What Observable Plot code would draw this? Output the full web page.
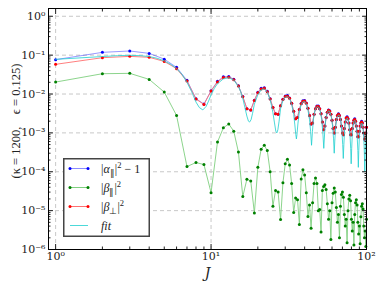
<!DOCTYPE html>
<html><head><meta charset="utf-8">
<script src="https://cdn.jsdelivr.net/npm/d3@7"></script>
<script src="https://cdn.jsdelivr.net/npm/@observablehq/plot@0.6"></script>
<style>
body{margin:0;background:#fff;}
#wrap{position:relative;width:381px;height:286px;}
#legend{position:absolute;left:63px;top:158px;}
</style>
</head><body>
<div id="wrap"><div id="chart"></div><svg id="legend" width="87" height="80"></svg></div>
<script>
// ---- data ----
const J = d3.range(1, 101);
const alphaPar = [0.0766,0.118,0.128,0.111,0.079,0.0485,0.0225,0.0076,0.0055,0.0122,
0.0212,0.0278,0.0283,0.0240,0.0163,0.0086,0.0042,0.0039,0.0069,0.0111,
0.0140,0.0146,0.0118,0.0075,0.0045,0.0031,0.0030,0.0050,0.0073,0.0089,
0.0091,0.0079,0.0058,0.0036,0.0023,0.0025,0.0040,0.0057,0.0067,0.0068,
0.0059,0.0043,0.0028,0.0017,0.0018,0.0030,0.0042,0.0049,0.0049,0.0042,
0.0031,0.0019,0.0012,0.0015,0.0025,0.0034,0.0039,0.0037,0.0030,0.0021,
0.0013,0.0010,0.0014,0.0022,0.0028,0.0031,0.0028,0.0022,0.0015,0.0010,
0.0009,0.0013,0.0019,0.0024,0.0026,0.0023,0.0018,0.0012,0.0009,0.0009,
0.0013,0.0018,0.0021,0.0023,0.0020,0.0015,0.0011,0.0008,0.0008,0.0011,
0.0015,0.0018,0.0020,0.0018,0.0014,0.0010,0.0007,0.0007,0.0010,0.0014];
const betaPar = [0.0203,0.0333,0.034,0.0238,0.0112,0.0028,1.36e-4,1.73e-4,1.53e-4,2.9e-5,
5.8e-4,1.35e-3,1.7e-3,1.1e-3,3.2e-4,2.3e-5,6.4e-5,5.8e-5,8.7e-6,1.3e-4,
3.8e-4,4.8e-4,3.5e-4,1.0e-4,1.3e-5,3.3e-5,3.0e-5,5.9e-6,5.2e-5,1.6e-4,
2.1e-4,1.5e-4,5.0e-5,9e-6,2.1e-5,1.9e-5,4.4e-6,6.5e-5,1.12e-4,8.2e-5,
2.9e-5,7.1e-6,1.4e-5,3.5e-6,1.6e-5,5.0e-5,6.9e-5,5.0e-5,1.0e-5,1.07e-5,
2.8e-6,3.3e-5,4.2e-5,4.6e-5,3.5e-5,1.5e-5,6e-6,1.0e-5,1.8e-6,1.6e-5,
2.8e-5,3.8e-5,3.0e-5,1.2e-5,5e-6,8e-6,2.0e-6,1.3e-5,2.6e-5,3.0e-5,
2.2e-5,8e-6,4e-6,6e-6,1.5e-6,1.0e-5,2.0e-5,2.5e-5,1.8e-5,6e-6,
3e-6,5e-6,1.3e-6,8e-6,1.6e-5,1.9e-5,1.4e-5,5e-6,2.5e-6,4e-6,
1.4e-6,7e-6,1.3e-5,1.5e-5,1.1e-5,4e-6,2e-6,3e-6,1.2e-6,6e-6];
const betaPerp = [0.058,0.086,0.093,0.088,0.069,0.045,0.0215,0.0074,0.0054,0.0119,
0.0205,0.0265,0.0270,0.0233,0.0160,0.0085,0.0042,0.0039,0.0068,0.0108,
0.0134,0.0140,0.0115,0.0074,0.0045,0.0031,0.0030,0.0050,0.0072,0.0086,
0.0088,0.0078,0.0058,0.0036,0.0023,0.0025,0.0040,0.0056,0.0065,0.0066,
0.0058,0.0043,0.0028,0.0017,0.0018,0.0030,0.0042,0.0048,0.0048,0.0042,
0.0031,0.0019,0.0012,0.0015,0.0025,0.0034,0.0038,0.0036,0.0030,0.0021,
0.0013,0.0010,0.0014,0.0022,0.0028,0.0030,0.0028,0.0022,0.0015,0.0010,
0.0009,0.0013,0.0019,0.0024,0.0025,0.0023,0.0018,0.0012,0.0009,0.0009,
0.0013,0.0018,0.0021,0.0022,0.0020,0.0015,0.0011,0.0008,0.0008,0.0011,
0.0015,0.0018,0.0019,0.0018,0.0014,0.0010,0.0007,0.0007,0.0010,0.0014];
const fitJ = [1,1.5,2,2.5,3,3.5,4,4.5,5,5.5,6,6.5,7,7.5,8,8.4,8.85,9.3,9.7,10,10.5,11,12,13,14,15,15.5,16,16.5,17,17.4,17.7,18.1,18.5,19,20,21,22,23,24,24.5,25,25.6,26.1,26.5,26.9,27.4,28,29,30,31,32,33,34,34.6,35.1,35.4,35.7,36.2,37,38,39,40,41,42,43,43.7,44.3,44.9,45.6,46.5,47.5,48.5,49.5,50.5,51.5,52.4,53.1,53.8,54.6,55.5,56.5,57.5,58.5,59.5,60.5,61.4,62,62.6,63.5,64.5,65.5,66.5,67.5,68.5,69.5,70.3,70.9,71.5,72.3,73.3,74.3,75.3,76.3,77.3,78.3,79.1,79.7,80.3,81.1,82.1,83.1,84.1,85.1,86.1,87.1,88,88.6,89.2,90,91,92,93,94,95,96,96.9,97.5,98.1,99,100];
const fitV = [0.078,0.086,0.092,0.097,0.099,0.097,0.092,0.083,0.071,0.058,0.045,0.032,0.020,0.0115,0.0062,0.0045,0.0039,0.0048,0.0070,0.0095,0.0140,0.0185,0.0245,0.0262,0.0228,0.0155,0.0115,0.0078,0.0045,0.0027,0.0020,0.0019,0.0022,0.0032,0.0055,0.0096,0.0127,0.0136,0.0112,0.0070,0.0050,0.0033,0.0018,0.0011,0.0010,0.0012,0.0020,0.0042,0.0068,0.0083,0.0086,0.0076,0.0055,0.0030,0.0016,0.0009,0.0007,0.0009,0.0017,0.0036,0.0053,0.0063,0.0064,0.0056,0.0039,0.0022,0.0011,0.00048,0.0011,0.0023,0.0036,0.0045,0.0047,0.0044,0.0035,0.0022,0.0010,0.00040,0.0010,0.0021,0.0031,0.0036,0.0037,0.0033,0.0025,0.0015,0.0007,0.00030,0.0007,0.0016,0.0024,0.0028,0.0029,0.0026,0.0019,0.0011,0.0005,0.00022,0.0005,0.0012,0.0019,0.0023,0.0024,0.0021,0.0015,0.0009,0.0004,0.00016,0.0004,0.0010,0.0016,0.0020,0.0021,0.0019,0.0014,0.0008,0.00035,0.00013,0.00035,0.0008,0.0013,0.0017,0.0018,0.0017,0.0013,0.0008,0.0003,0.00010,0.0003,0.0008,0.0012];
const xTicks = [1, 10, 100];
const xTickLabels = ["10⁰", "10¹", "10²"];
const yTicks = [1, 1e-1, 1e-2, 1e-3, 1e-4, 1e-5, 1e-6];
const yTickLabels = ["10⁰", "10⁻¹", "10⁻²", "10⁻³", "10⁻⁴", "10⁻⁵", "10⁻⁶"];
const yTitle = "(κ = 1200,    ϵ = 0.125)";
const xTitle = "J";

// ---- build ----
const tbl = arr => J.map((j, i) => ({J: j, v: arr[i]}));
const dA = tbl(alphaPar), dB = tbl(betaPar), dP = tbl(betaPerp);
const dF = fitJ.map((j, i) => ({J: j, v: fitV[i]}));
const xMinor = [1, 10].flatMap(b => [2,3,4,5,6,7,8,9].map(k => k * b));
const yMinor = yTicks.slice(1).flatMap(b => [2,3,4,5,6,7,8,9].map(k => k * b));
const xLab = new Map(xTicks.map((t, i) => [t, xTickLabels[i]]));
const yLab = new Map(yTicks.map((t, i) => [t, yTickLabels[i]]));
const empty = () => "";

const C = {blue: "#0000ff", green: "#008000", greenLine: "#7fcf7f", red: "#ff0000", redLine: "#ff7070", fit: "#1fcfcf"};
const FONT = "'DejaVu Serif', serif";
const SERIF2 = "'Liberation Serif', serif";

const chart = Plot.plot({
  width: 381, height: 286,
  marginLeft: 48, marginRight: 15, marginTop: 8, marginBottom: 37,
  style: {fontFamily: FONT, fontSize: "10px", color: "#222", background: "#fff"},
  x: {type: "log", domain: [0.9, 100], label: null},
  y: {type: "log", domain: [1e-6, 1.585], label: null},
  marks: [
    Plot.gridX(xTicks, {stroke: "#c8c8c8", strokeOpacity: 1, strokeDasharray: "4,3"}),
    Plot.gridY(yTicks, {stroke: "#c8c8c8", strokeOpacity: 1, strokeDasharray: "4,3"}),
    Plot.line(dA, {x: "J", y: "v", stroke: C.blue, strokeOpacity: 0.45, strokeWidth: 0.9}),
    Plot.dot(dA, {x: "J", y: "v", r: 1.5, fill: C.blue}),
    Plot.line(dB, {x: "J", y: "v", stroke: C.greenLine, strokeWidth: 0.9}),
    Plot.dot(dB, {x: "J", y: "v", r: 1.5, fill: C.green}),
    Plot.line(dP, {x: "J", y: "v", stroke: C.redLine, strokeWidth: 0.9}),
    Plot.dot(dP, {x: "J", y: "v", r: 1.5, fill: C.red}),
    Plot.line(dF, {x: "J", y: "v", stroke: C.fit, strokeOpacity: 0.8, strokeWidth: 1}),
    // inward ticks on all four sides
    Plot.axisX(xTicks, {anchor: "bottom", tickSize: 5, dy: -5, tickFormat: empty, label: null}),
    Plot.axisX(xMinor, {anchor: "bottom", tickSize: 2.5, dy: -2.5, tickFormat: empty, label: null}),
    Plot.axisX(xTicks, {anchor: "top", tickSize: 5, dy: 5, tickFormat: empty, label: null}),
    Plot.axisX(xMinor, {anchor: "top", tickSize: 2.5, dy: 2.5, tickFormat: empty, label: null}),
    Plot.axisY(yTicks, {anchor: "left", tickSize: 5, dx: 5, tickFormat: empty, label: null}),
    Plot.axisY(yMinor, {anchor: "left", tickSize: 2.5, dx: 2.5, tickFormat: empty, label: null}),
    Plot.axisY(yTicks, {anchor: "right", tickSize: 5, dx: -5, tickFormat: empty, label: null}),
    Plot.axisY(yMinor, {anchor: "right", tickSize: 2.5, dx: -2.5, tickFormat: empty, label: null}),
    // tick labels
    Plot.axisX(xTicks, {anchor: "bottom", tickSize: 0, tickPadding: 3, tickFormat: d => xLab.get(d), fontSize: 11, label: null}),
    Plot.axisY(yTicks, {anchor: "left", tickSize: 0, tickPadding: 3, tickFormat: d => yLab.get(d), fontSize: 11, label: null}),
    Plot.frame({stroke: "#000", strokeWidth: 1}),
    Plot.text([xTitle], {frameAnchor: "bottom", dy: 28, fontSize: 14, fontStyle: "italic", fill: "#222"})
  ]
});
document.getElementById("chart").appendChild(chart);

// y-axis title (rotated)
d3.select(chart).append("text")
  .attr("transform", "translate(16,121) rotate(-90)")
  .attr("text-anchor", "middle").attr("dominant-baseline", "central")
  .style("font-family", SERIF2).style("font-size", "12.5px").style("white-space", "pre")
  .attr("fill", "#222")
  .text(yTitle);

// ---- legend ----
const legendItems = [
  {color: C.blue, line: C.blue, lineOp: 0.45, dots: true, label: ["|", ["α", "i"], ["∥", "sub"], "|", ["2", "sup"], " − 1"]},
  {color: C.green, line: C.greenLine, lineOp: 1, dots: true, label: ["|", ["β", "i"], ["∥", "sub"], "|", ["2", "sup"]]},
  {color: C.red, line: C.redLine, lineOp: 1, dots: true, label: ["|", ["β", "i"], ["⊥", "sub"], "|", ["2", "sup"]]},
  {color: C.fit, line: C.fit, lineOp: 0.8, dots: false, label: [["fit", "i"]]}
];
const lg = d3.select("#legend");
lg.append("rect").attr("x", 0.75).attr("y", 0.75).attr("width", 85.5).attr("height", 77.5)
  .attr("fill", "#fff").attr("stroke", "#444").attr("stroke-width", 1.5);
legendItems.forEach((it, i) => {
  const y = 10.5 + i * 19;
  lg.append("line").attr("x1", 7).attr("x2", 25).attr("y1", y).attr("y2", y)
    .attr("stroke", it.line).attr("stroke-opacity", it.lineOp).attr("stroke-width", 1);
  if (it.dots) [7, 25].forEach(x => lg.append("circle").attr("cx", x).attr("cy", y).attr("r", 1.5).attr("fill", it.color));
  const t = lg.append("text").attr("x", 38).attr("y", y + 4)
    .style("font-family", SERIF2).style("font-size", "12px").style("white-space", "pre").attr("fill", "#222");
  let shift = 0;
  it.label.forEach(p => {
    const [s, k] = Array.isArray(p) ? p : [p, "n"];
    const target = k === "sub" ? 3 : k === "sup" ? -4.5 : 0;
    const ts = t.append("tspan").text(s).attr("dy", target - shift);
    shift = target;
    if (k === "i") ts.style("font-style", "italic");
    if (k === "sub" || k === "sup") ts.style("font-size", "8.5px");
  });
});
</script>
</body></html>
